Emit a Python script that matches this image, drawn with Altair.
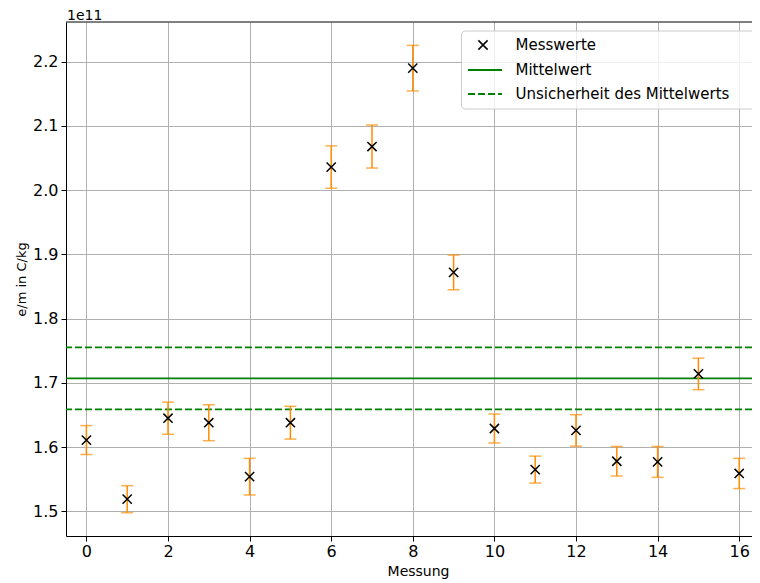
import altair as alt
import pandas as pd

# ---- data (values in units of 1e11 C/kg) ----
messung = list(range(17))
werte = [1.611, 1.519, 1.645, 1.638, 1.554, 1.638, 2.036, 2.068, 2.190, 1.872,
         1.629, 1.565, 1.626, 1.578, 1.577, 1.714, 1.559]
fehler = [0.0225, 0.021, 0.025, 0.028, 0.0285, 0.0255, 0.033, 0.0335, 0.0355, 0.027,
          0.0225, 0.021, 0.0245, 0.023, 0.024, 0.0245, 0.0235]
mittelwert = 1.707
unsicherheit = 0.0483
legend_labels = ["Messwerte", "Mittelwert", "Unsicherheit des Mittelwerts"]
x_ticks = list(range(0, 17, 2))
y_ticks = [1.5, 1.6, 1.7, 1.8, 1.9, 2.0, 2.1, 2.2]

df = pd.DataFrame({
    "Messung": messung,
    "wert": werte,
    "lo": [w - f for w, f in zip(werte, fehler)],
    "hi": [w + f for w, f in zip(werte, fehler)],
})
mean_df = pd.DataFrame({
    "m": [mittelwert],
    "m_lo": [mittelwert - unsicherheit],
    "m_hi": [mittelwert + unsicherheit],
})

lo_all = min(df["lo"])
hi_all = max(df["hi"])
pad = 0.05 * (hi_all - lo_all)
ydom = [lo_all - pad, hi_all + pad]

W, H = 686, 514
PX_PER_UNIT = 40.8
ORANGE = "#ff8c00"
GREEN = "#008000"
FONT = "DejaVu Sans"
XPATH = "M-1,-1L1,1M-1,1L1,-1"

xscale = alt.Scale(domain=[-0.5, -0.5 + W / PX_PER_UNIT], nice=False, zero=False)
yscale = alt.Scale(domain=ydom, nice=False, zero=False)
xaxis = alt.Axis(values=x_ticks, title="Messung", format="d",
                 titleX=352, titleY=39, titleBaseline="alphabetic",
                 titleAlign="center", titleFontSize=14, labelPadding=2)
yaxis = alt.Axis(values=y_ticks, title="e/m in C/kg", format=".1f",
                 titleX=-45, titleY=257, titleAngle=270, titleAlign="center",
                 titleBaseline="middle", titleFontSize=13, labelPadding=3)

X = alt.X("Messung:Q", scale=xscale, axis=xaxis)
base = alt.Chart(df)

bars = base.mark_rule(color=ORANGE, strokeWidth=1.5).encode(
    x=X, y=alt.Y("lo:Q", scale=yscale, axis=yaxis), y2="hi:Q")
cap_lo = base.mark_tick(orient="horizontal", size=12, thickness=1.5, color=ORANGE).encode(
    x=X, y=alt.Y("lo:Q", scale=yscale, axis=yaxis))
cap_hi = base.mark_tick(orient="horizontal", size=12, thickness=1.5, color=ORANGE).encode(
    x=X, y=alt.Y("hi:Q", scale=yscale, axis=yaxis))
pts = base.mark_point(shape=XPATH, size=85, color="black", strokeWidth=1.5,
                      filled=False, opacity=1).encode(
    x=X, y=alt.Y("wert:Q", scale=yscale, axis=yaxis))

mbase = alt.Chart(mean_df)
mline = mbase.mark_rule(color=GREEN, strokeWidth=1.8).encode(
    y=alt.Y("m:Q", scale=yscale, axis=yaxis))
mlo = mbase.mark_rule(color=GREEN, strokeWidth=1.8, strokeDash=[7, 3]).encode(
    y=alt.Y("m_lo:Q", scale=yscale, axis=yaxis))
mhi = mbase.mark_rule(color=GREEN, strokeWidth=1.8, strokeDash=[7, 3]).encode(
    y=alt.Y("m_hi:Q", scale=yscale, axis=yaxis))

# top spine
top_spine = alt.Chart(mean_df).mark_rule(color="black", strokeWidth=1).encode(
    x=alt.value(0), x2=alt.value(W), y=alt.value(0))

# "1e11" offset text
offset_txt = alt.Chart(mean_df).mark_text(
    text="1e11", align="left", baseline="alphabetic", fontSize=14, font=FONT, color="black"
).encode(x=alt.value(1), y=alt.value(-2))

# legend (manual)
leg_box = alt.Chart(mean_df).mark_rect(
    fill="white", fillOpacity=0.8, stroke="#cccccc", strokeWidth=1, cornerRadius=4
).encode(x=alt.value(395.5), x2=alt.value(W + 6), y=alt.value(9), y2=alt.value(87))
leg_x = alt.Chart(mean_df).mark_point(
    shape=XPATH, size=85, color="black", strokeWidth=1.5, filled=False, opacity=1
).encode(x=alt.value(417), y=alt.value(23))
leg_solid = alt.Chart(mean_df).mark_rule(color=GREEN, strokeWidth=1.8).encode(
    x=alt.value(402), x2=alt.value(436), y=alt.value(48))
leg_dash = alt.Chart(mean_df).mark_rule(color=GREEN, strokeWidth=1.8, strokeDash=[7, 3]).encode(
    x=alt.value(402), x2=alt.value(436), y=alt.value(72))
leg_texts = [
    alt.Chart(mean_df).mark_text(text=lbl, align="left", baseline="middle",
                                 fontSize=15, font=FONT, color="black"
                                 ).encode(x=alt.value(449.5), y=alt.value(yy))
    for lbl, yy in zip(legend_labels, [23, 48, 72])
]

chart = alt.layer(
    mline, mlo, mhi, bars, cap_lo, cap_hi, pts, top_spine, offset_txt,
    leg_box, leg_x, leg_solid, leg_dash, *leg_texts
).properties(
    width=W, height=H,
    autosize=alt.AutoSizeParams(type="none"),
    padding={"left": 58, "top": 14, "right": 0, "bottom": 47},
).configure_view(stroke=None).configure_axis(
    gridColor="#b0b0b0", gridWidth=1, grid=True,
    domainColor="black", domainWidth=1,
    tickColor="black", tickSize=5, tickWidth=1,
    labelColor="black", titleColor="black",
    labelFont=FONT, titleFont=FONT, labelFontSize=16,
    titleFontWeight="normal",
)

chart.save("out.html", embed_options={"renderer": "svg", "actions": False})
